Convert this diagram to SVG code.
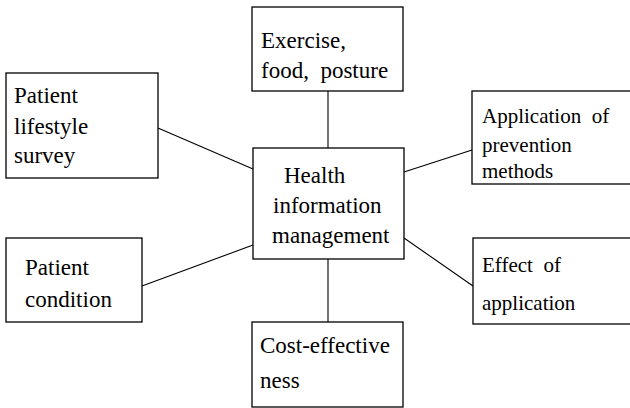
<svg xmlns="http://www.w3.org/2000/svg" width="630" height="408" viewBox="0 0 630 408">
<style>
.box{fill:#fff;stroke:#000;stroke-width:1.3}
text{font-family:'Liberation Serif','Times New Roman',Tinos,'DejaVu Serif',serif;font-size:23px;fill:#000}
text.s{font-size:21px}
.c line{stroke:#000;stroke-width:1.1}
</style>
<rect width="630" height="408" fill="#fff"/>
<g class="c" id="connectors">
<line x1="328" y1="91" x2="328" y2="148"/>
<line x1="328" y1="259" x2="328" y2="322"/>
<line x1="158" y1="128" x2="253" y2="169"/>
<line x1="404" y1="172" x2="472" y2="150"/>
<line x1="142" y1="286" x2="253" y2="245"/>
<line x1="404" y1="238" x2="473" y2="286"/>
</g>
<g font-family="Liberation Serif, Times New Roman, serif">
<g id="n-top">
<rect class="box" x="252" y="7" width="151" height="84"/>
<text x="261" y="48">Exercise,</text>
<text x="261" y="78" xml:space="preserve">food,  posture</text>
</g>
<g id="n-lifestyle">
<rect class="box" x="6" y="73" width="152" height="105"/>
<text x="14" y="103">Patient</text>
<text x="14" y="134">lifestyle</text>
<text x="14" y="163">survey</text>
</g>
<g id="n-prevention">
<rect class="box" x="472" y="91" width="170" height="93"/>
<text class="s" x="482" y="123" xml:space="preserve">Application  of</text>
<text class="s" x="482" y="152">prevention</text>
<text class="s" x="482" y="178">methods</text>
</g>
<g id="n-center">
<rect class="box" x="253" y="148" width="151" height="111"/>
<text x="284" y="183">Health</text>
<text x="273" y="213">information</text>
<text x="272" y="243">management</text>
</g>
<g id="n-condition">
<rect class="box" x="6" y="238" width="136" height="84"/>
<text x="25" y="275">Patient</text>
<text x="25" y="307">condition</text>
</g>
<g id="n-effect">
<rect class="box" x="473" y="238" width="170" height="86"/>
<text class="s" x="482" y="272" xml:space="preserve">Effect  of</text>
<text class="s" x="482" y="310">application</text>
</g>
<g id="n-cost">
<rect class="box" x="252" y="322" width="151" height="85"/>
<text x="260" y="353">Cost-effective</text>
<text x="260" y="388">ness</text>
</g>
</g>
</svg>
